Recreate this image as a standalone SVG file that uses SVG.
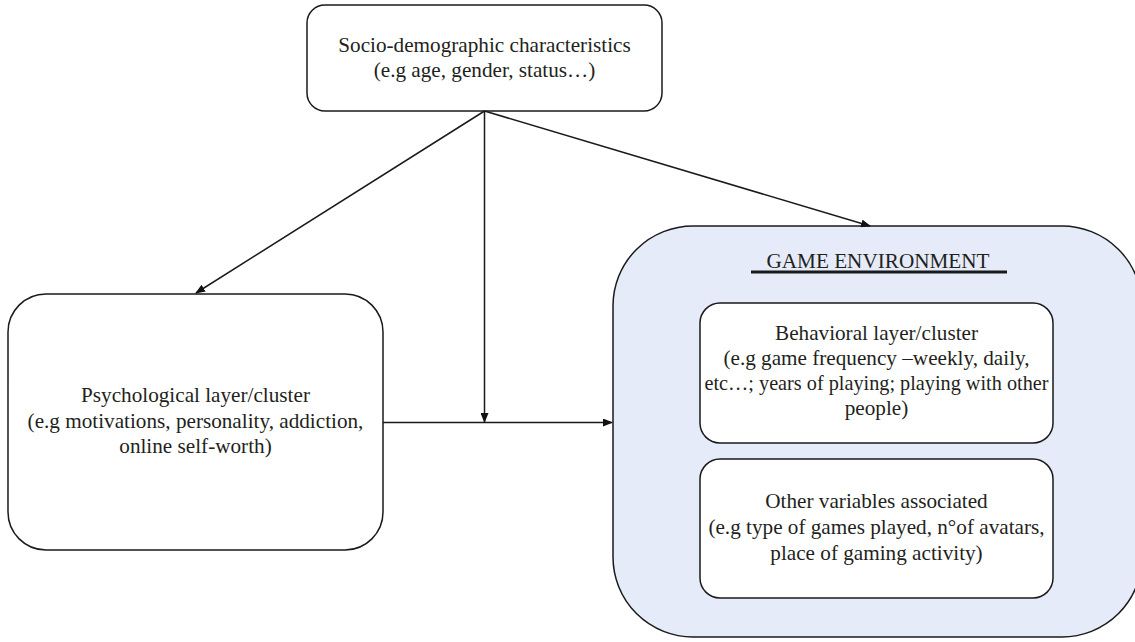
<svg xmlns="http://www.w3.org/2000/svg" width="1135" height="642" viewBox="0 0 1135 642">
<defs>
<marker id="ah" markerWidth="10" markerHeight="8" refX="9" refY="4" orient="auto" markerUnits="userSpaceOnUse">
<path d="M0,0 L10,4 L0,8 Z" fill="#111"/>
</marker>
<style>
.box{fill:#fff;stroke:#1a1a1a;stroke-width:1.5}
.env{fill:#e5ebf9;stroke:#1a1a1a;stroke-width:1.5}
.t{font-size:21.2px;fill:#231f20;text-anchor:middle}
.c{fill:none;stroke:#1a1a1a;stroke-width:1.5}
</style>
</defs>
<rect width="1135" height="642" fill="#fff"/>
<g font-family="'Liberation Serif', 'Times New Roman', 'DejaVu Serif', serif">
<g id="socio">
<rect class="box" x="307" y="5" width="355" height="106" rx="18"/>
<text class="t" x="484.5" y="52">Socio-demographic characteristics</text>
<text class="t" x="484.5" y="77">(e.g age, gender, status…)</text>
</g>
<g id="psych">
<rect class="box" x="8" y="294" width="375" height="256" rx="38"/>
<text class="t" x="195.5" y="402">Psychological layer/cluster</text>
<text class="t" x="195.5" y="427.5">(e.g motivations, personality, addiction,</text>
<text class="t" x="195.5" y="453">online self-worth)</text>
</g>
<g id="game-env">
<rect class="env" x="613" y="226" width="529" height="411" rx="80"/>
<text class="t" x="878" y="268">GAME ENVIRONMENT</text>
<line x1="751" y1="272" x2="1007" y2="272" stroke="#1a1a1a" stroke-width="3"/>
</g>
<g id="behavioral">
<rect class="box" x="700" y="303" width="353" height="140" rx="20"/>
<text class="t" x="876.5" y="340">Behavioral layer/cluster</text>
<text class="t" x="876.5" y="365">(e.g game frequency –weekly, daily,</text>
<text class="t" x="876.5" y="390" textLength="344" lengthAdjust="spacingAndGlyphs">etc…; years of playing; playing with other</text>
<text class="t" x="876.5" y="415">people)</text>
</g>
<g id="other">
<rect class="box" x="700" y="459" width="353" height="139" rx="20"/>
<text class="t" x="876.5" y="508">Other variables associated</text>
<text class="t" x="876.5" y="534">(e.g type of games played, n°of avatars,</text>
<text class="t" x="876.5" y="560">place of gaming activity)</text>
</g>
</g>
<g id="connectors">
<line class="c" x1="484.5" y1="111" x2="196" y2="293" marker-end="url(#ah)"/>
<line class="c" x1="484.5" y1="111" x2="484.5" y2="422" marker-end="url(#ah)"/>
<line class="c" x1="484.5" y1="111" x2="870" y2="226" marker-end="url(#ah)"/>
<line class="c" x1="383" y1="422.5" x2="612" y2="422.5" marker-end="url(#ah)"/>
</g>
</svg>
